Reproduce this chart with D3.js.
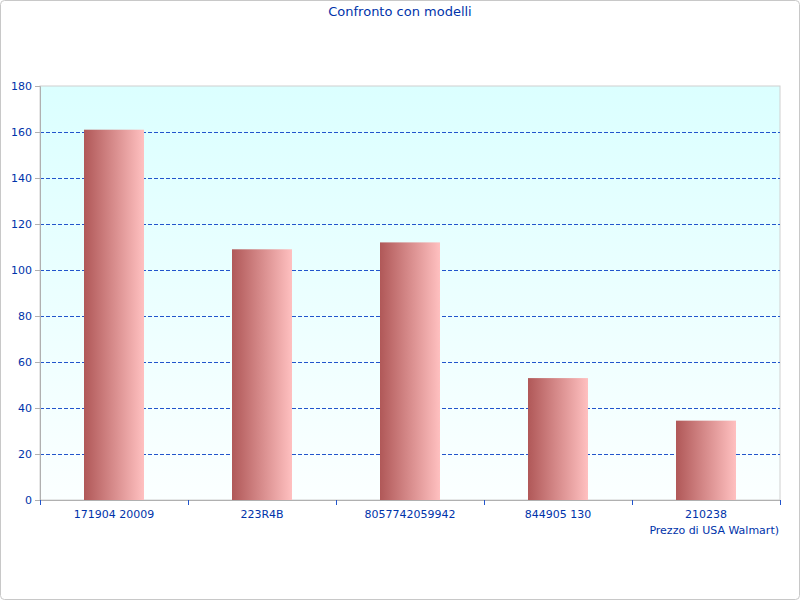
<!DOCTYPE html>
<html><head><meta charset="utf-8">
<script src="https://cdn.jsdelivr.net/npm/d3@7"></script>
<style>body{margin:0;background:#fff}svg{display:block}text{font-family:"DejaVu Sans",sans-serif;fill:#0033aa}</style>
</head><body>
<script>
// chart data
var categories = ["171904 20009", "223R4B", "8057742059942", "844905 130", "210238"];
var values = [161, 109, 112, 53, 34.5];
var yTicks = [0, 20, 40, 60, 80, 100, 120, 140, 160, 180];

var W = 800, H = 600, m = {top: 86, right: 20, bottom: 100, left: 40};
var svg = d3.select("body").append("svg").attr("width", W).attr("height", H);
var defs = svg.append("defs");
var bg = defs.append("linearGradient").attr("id", "bg").attr("x1", 0).attr("y1", 0).attr("x2", 0).attr("y2", 1);
bg.append("stop").attr("offset", "0%").attr("stop-color", "#dbffff");
bg.append("stop").attr("offset", "100%").attr("stop-color", "#fbffff");
var bar = defs.append("linearGradient").attr("id", "bar");
bar.append("stop").attr("offset", "0%").attr("stop-color", "#b05858");
bar.append("stop").attr("offset", "100%").attr("stop-color", "#ffc0c0");

svg.append("rect").attr("x", 0.5).attr("y", 0.5).attr("width", W - 1).attr("height", H - 1)
  .attr("rx", 4).attr("fill", "#fff").attr("stroke", "#c8c8c8");

var iw = W - m.left - m.right, ih = H - m.top - m.bottom;
var g = svg.append("g").attr("transform", "translate(" + m.left + "," + m.top + ")");
var x = d3.scaleBand().domain(categories).range([0, iw]);
var y = d3.scaleLinear().domain([0, 180]).range([ih, 0]);

g.append("rect").attr("width", iw).attr("height", ih).attr("fill", "url(#bg)").attr("stroke", "#d0d0d0");

g.selectAll(".grid").data(yTicks.slice(1, -1)).enter().append("line")
  .attr("x1", 0).attr("x2", iw).attr("y1", function(d) { return y(d) + 0.5; }).attr("y2", function(d) { return y(d) + 0.5; })
  .attr("stroke", "#2255cc").attr("stroke-dasharray", "4,2");

g.selectAll(".bar").data(values).enter().append("rect")
  .attr("x", function(d, i) { return x(categories[i]) + x.bandwidth() / 2 - 30; })
  .attr("width", 60)
  .attr("y", function(d) { return y(d); })
  .attr("height", function(d) { return ih - y(d); })
  .attr("fill", "url(#bar)");

var ya = g.append("g").call(d3.axisLeft(y).tickValues(yTicks).tickSize(5));
ya.selectAll("text").style("font-size", "11px").attr("fill", "#0033aa");
ya.selectAll("line,path").attr("stroke", "#b0b0b0");

var xa = g.append("g").attr("transform", "translate(0," + ih + ")")
  .call(d3.axisBottom(x).tickSize(0).tickPadding(10));
xa.selectAll("text").style("font-size", "11px").attr("fill", "#0033aa");
xa.select("path").attr("stroke", "#b0b0b0");
g.selectAll(".xt").data(d3.range(categories.length + 1)).enter().append("line")
  .attr("x1", function(i) { return i * x.step() + 0.5; }).attr("x2", function(i) { return i * x.step() + 0.5; })
  .attr("y1", ih).attr("y2", ih + 5).attr("stroke", "#2255cc");

svg.append("text").attr("x", W / 2).attr("y", 16).attr("text-anchor", "middle")
  .style("font-size", "13px").text("Confronto con modelli");
svg.append("text").attr("x", 779).attr("y", 534).attr("text-anchor", "end")
  .style("font-size", "11px").text("Prezzo di USA Walmart)");
</script>
</body></html>
